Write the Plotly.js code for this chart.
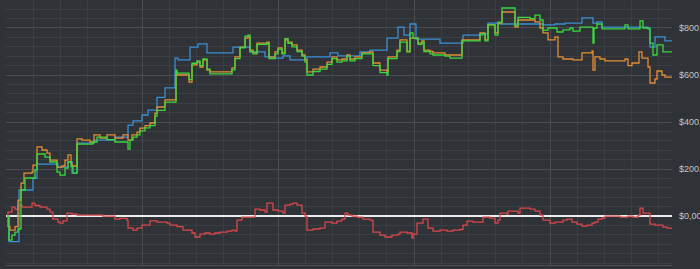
<!DOCTYPE html>
<html>
<head>
<meta charset="utf-8">
<script src="https://cdn.plot.ly/plotly-3.0.1.min.js"></script>
<style>
html,body{margin:0;padding:0;background:#2f3236;overflow:hidden;}
#chart{width:700px;height:269px;}
</style>
</head>
<body>
<div id="chart"></div>
<script>
// Day index and equity values ($)
const blueX = [7,9,19,33,37,58,68,72,77,94,115,128,133,142,148,157,165,175,178,190,198,207,233,250,265,272,283,290,307,330,338,360,370,387,398,404,410,416,440,463,483,488,500,518,543,555,565,582,593,597,602,640,648,650,655,665,672];
const blueY = [0,-109,111,160,221,208,231,183,310,323,336,387,405,430,451,505,545,672,664,719,732,694,719,698,677,672,681,664,677,694,681,698,706,757,804,770,817,753,736,770,775,821,817,817,813,817,821,843,821,826,804,804,800,719,762,745,745];

const orangeX = [7,8,10,15,18,21,24,32,33,37,42,47,50,57,62,65,68,71,72,77,82,90,94,100,107,115,123,128,132,137,140,145,150,155,157,165,176,177,189,192,197,200,203,207,210,232,235,240,245,248,250,253,257,267,269,275,278,282,285,288,292,297,302,305,307,313,320,327,332,337,342,347,350,355,362,370,373,380,387,388,397,400,407,410,418,422,424,430,433,445,462,480,485,488,495,498,502,515,518,535,540,543,548,555,558,563,573,582,592,593,595,600,605,625,628,632,639,642,648,650,655,657,662,665,672];
const orangeY = [0,-45,-60,-45,68,140,183,187,217,294,281,268,238,208,213,238,260,225,213,328,323,315,345,332,345,332,345,323,345,357,374,385,396,438,464,494,613,600,570,643,655,634,664,621,613,630,677,719,757,762,706,694,736,740,677,698,715,694,749,740,728,706,685,664,613,625,634,655,677,664,668,685,668,677,694,698,651,621,613,677,706,749,700,757,736,745,706,700,694,685,749,779,749,813,779,821,868,804,834,826,800,779,749,762,677,668,664,694,702,621,677,668,660,668,640,651,698,672,634,566,583,617,600,591,591];

const greenX = [7,9,12,15,18,21,25,35,37,45,50,57,60,65,68,71,73,77,93,97,107,115,128,130,133,137,140,145,150,155,157,165,176,177,189,192,197,200,203,207,210,232,235,240,245,248,250,253,257,267,269,275,278,282,285,288,292,297,302,305,307,313,320,327,332,337,342,347,350,355,362,370,373,380,387,388,397,400,407,410,413,418,422,424,430,433,445,450,462,480,485,488,495,498,502,515,518,530,535,540,543,548,557,563,570,573,580,593,594,597,602,625,628,640,643,648,650,653,657,663,672];
const greenY = [0,-102,-81,-68,-55,111,162,196,264,251,230,187,174,204,230,210,183,306,315,336,325,315,285,323,336,345,362,375,385,425,450,485,621,608,580,650,660,640,668,625,605,622,670,715,765,770,700,690,730,735,670,690,710,690,755,735,720,700,680,655,600,615,625,645,670,655,660,680,660,670,690,690,640,610,600,670,700,740,698,779,757,730,740,700,690,685,680,672,745,775,745,813,770,825,885,810,845,840,855,834,791,800,783,792,800,787,804,736,800,817,796,813,796,830,800,796,736,685,728,698,698];

const redX = [7,8,12,15,18,22,32,35,40,47,50,53,58,60,63,67,72,77,103,115,120,127,128,133,137,142,150,157,167,170,177,183,192,195,200,205,210,215,220,227,232,235,237,242,255,260,265,267,273,278,283,285,290,293,297,302,305,307,313,320,325,332,337,342,345,348,352,357,363,370,373,380,385,392,398,400,407,412,413,417,423,428,433,440,447,453,460,463,467,473,483,490,495,498,500,507,508,518,520,530,535,540,543,550,555,563,567,572,577,582,587,592,595,598,602,605,620,628,633,638,640,643,648,650,655,663,667,672];
const redY = [0,17,38,30,47,38,55,45,38,30,17,-13,-26,-30,-20,13,8,4,0,-13,-10,-17,-51,-60,-51,-38,-20,-26,-30,-38,-45,-60,-72,-89,-77,-72,-77,-72,-68,-64,-60,-64,-17,-4,30,26,17,55,26,21,13,47,51,55,47,13,0,-60,-55,-51,-26,-30,-21,-13,13,4,0,-4,-13,-17,-68,-81,-89,-81,-77,-68,-72,-94,-77,-30,-13,-51,-64,-60,-64,-60,-57,-38,-21,-26,-4,-9,-30,-17,13,9,21,13,34,30,21,4,-17,-30,-26,-17,-13,-26,-34,-43,-38,-30,-26,-13,-9,0,-4,0,-4,4,34,13,13,-34,-38,-47,-51,-51];

const yTicks = [0,200,400,600,800];

function tr(x, y, color) {
  return {x: x, y: y, type: 'scatter', mode: 'lines',
    line: {shape: 'hv', color: color, width: 1.3}, hoverinfo: 'skip'};
}

const data = [
  tr(redX, redY, '#d9484b'),
  tr(blueX, blueY, '#3b8fd3'),
  tr(orangeX, orangeY, '#e68d33'),
  tr(greenX, greenY, '#3dd83d')
];

const layout = {
  width: 700, height: 269,
  margin: {l: 6, r: 28, t: 0, b: 4},
  paper_bgcolor: '#2f3236',
  plot_bgcolor: '#2f3236',
  showlegend: false,
  separators: ',.',
  xaxis: {
    range: [6, 672], tick0: 6, dtick: 136, tickmode: 'linear',
    showticklabels: false, ticks: '',
    showgrid: true, gridcolor: '#4b4f55', gridwidth: 1,
    minor: {dtick: 27.2, tick0: 6, showgrid: true, gridcolor: '#3b3e43', gridwidth: 1},
    zeroline: false, showline: true, linecolor: '#4b4f55', mirror: false
  },
  yaxis: {
    side: 'right', range: [-208, 919],
    tickmode: 'array', tickvals: yTicks,
    ticktext: yTicks.map(v => '$' + v + ',00'),
    ticks: '', ticklabelstandoff: 6,
    tickfont: {family: 'Liberation Sans, Arial, sans-serif', size: 9, color: '#c3c5c8'},
    showgrid: true, gridcolor: '#4b4f55', gridwidth: 1,
    minor: {tickmode: 'linear', dtick: 40, tick0: 0, showgrid: true, gridcolor: '#3b3e43', gridwidth: 1},
    zeroline: true, zerolinecolor: '#ececec', zerolinewidth: 2,
    showline: false
  }
};

Plotly.newPlot('chart', data, layout, {displayModeBar: false, staticPlot: true});
</script>
</body>
</html>
